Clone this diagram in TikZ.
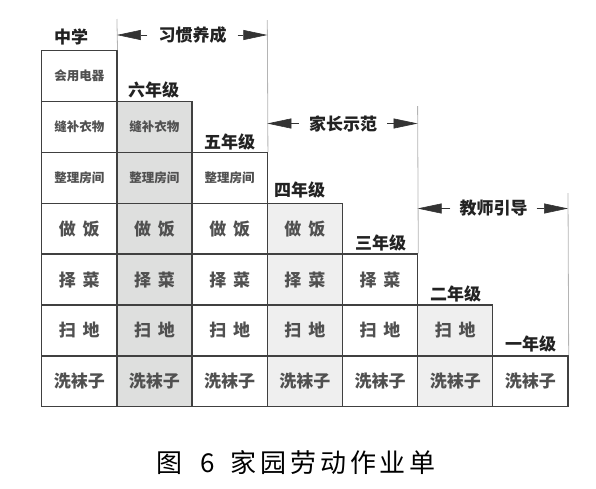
\documentclass[tikz,border=0pt]{standalone}
\usepackage{fontspec}
\usetikzlibrary{arrows.meta,calc}
\newfontfamily\cjk{Noto Sans CJK SC}
\definecolor{shadeA}{HTML}{DEDFDE}
\definecolor{shadeB}{HTML}{EFEFEF}
\definecolor{edgecol}{HTML}{404040}
\definecolor{celltext}{HTML}{505050}
\definecolor{labtext}{HTML}{222222}
\definecolor{guide}{HTML}{B4B4B4}
\newcommand{\cs}{\hspace{3.8pt}}
\tikzset{
  cell/.style={draw=edgecol, line width=1.3pt, minimum width=75.19pt, minimum height=50.86pt,
    inner sep=0pt, text=celltext},
  smalltxt/.style={font=\cjk\bfseries\fontsize{12.5}{13}\selectfont},
  bigtxt/.style={font=\cjk\bfseries\fontsize{17}{18}\selectfont},
  lab/.style={font=\cjk\bfseries\fontsize{17}{18}\selectfont, text=labtext, inner sep=0pt, anchor=west},
  ttl/.style={font=\cjk\bfseries\fontsize{17}{18}\selectfont, text=labtext, inner sep=0pt},
  guideline/.style={draw=guide, line width=0.8pt},
  dim/.style={draw=black!80, line width=0.6pt, -{Triangle[length=24pt,width=10pt]}},
}
\begin{document}
\begin{tikzpicture}[x=1pt,y=-1pt]
\path[use as bounding box] (0,0) rectangle (596,488);
% guide line tops
\coordinate (g1) at (116.9,19);
\coordinate (g2) at (267.3,20);
\coordinate (g3) at (417.6,106);
\coordinate (g4) at (568,193);
% cells
\foreach \j/\txt in {1/会用电器,2/缝补衣物,3/整理房间}{
  \foreach \i/\fc in {1/white,2/shadeA,3/white,4/shadeB,5/white,6/shadeB,7/white}{
    \ifnum\i>\j\relax\else
      \node[cell,smalltxt,fill=\fc] (c\i r\j) at ({41.7+75.19*(\i-0.5)},{50.7+50.86*(\j-0.5)}) {\txt};
    \fi
  }
}
\foreach \j/\txt in {4/{做\hspace{0.4em}饭},5/{择\hspace{0.4em}菜},6/{扫\hspace{0.4em}地},7/洗袜子}{
  \foreach \i/\fc in {1/white,2/shadeA,3/white,4/shadeB,5/white,6/shadeB,7/white}{
    \ifnum\i>\j\relax\else
      \node[cell,bigtxt,fill=\fc] (c\i r\j) at ({41.7+75.19*(\i-0.5)},{50.7+50.86*(\j-0.5)}) {\txt};
    \fi
  }
}
\draw[guideline] (g1) -- (c1r1.north east);
\draw[guideline] (g2) -- (c3r3.north east);
\draw[guideline] (g3) -- (c5r5.north east);
\draw[guideline] (g4) -- (c7r7.north east);
% grade labels
\node[lab] (l1) at (54,37) {中学};
\node[lab] (l2) at (128,90) {六年级};
\node[lab] (l3) at (204,141.5) {五年级};
\node[lab] (l4) at (274,190) {四年级};
\node[lab] (l5) at (355,243) {三年级};
\node[lab] (l6) at (430,293.5) {二年级};
\node[lab] (l7) at (505,344) {一年级};
% stage titles with arrows
\node[ttl] (t1) at (192.5,35) {习惯养成};
\node[ttl] (t2) at (343,123.5) {家长示范};
\node[ttl] (t3) at (493.5,208.5) {教师引导};
\draw[dim, shorten <=11pt] (t1.west) -- (t1.west -| g1);
\draw[dim, shorten <=11pt] (t1.east) -- (t1.east -| g2);
\draw[dim, shorten <=10pt] (t2.west) -- (t2.west -| g2);
\draw[dim, shorten <=10pt] (t2.east) -- (t2.east -| g3);
\draw[dim, shorten <=9pt] (t3.west) -- (t3.west -| g3);
\draw[dim, shorten <=9pt] (t3.east) -- (t3.east -| g4);
% caption
\node[font=\cjk\fontsize{26}{28}\selectfont, inner sep=0pt] (cap) at (296,463)
  {图\hspace{18pt}6\hspace{16pt}家\cs 园\cs 劳\cs 动\cs 作\cs 业\cs 单};
\end{tikzpicture}
\end{document}
